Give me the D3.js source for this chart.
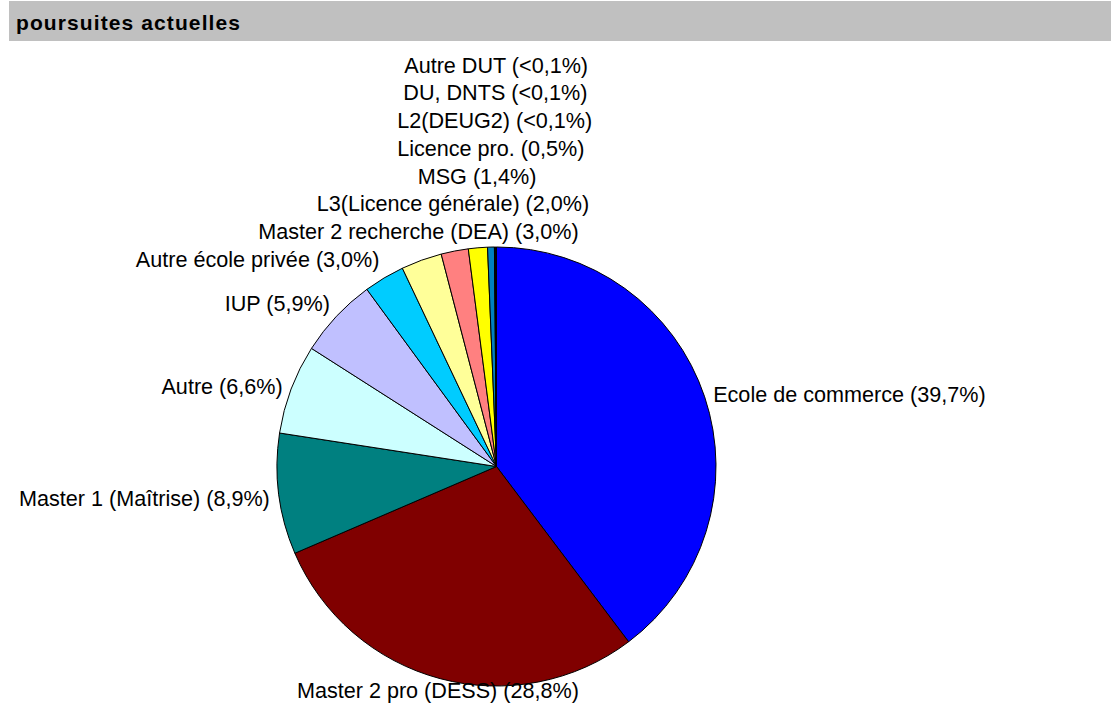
<!DOCTYPE html>
<html>
<head>
<meta charset="utf-8">
<script src="https://cdn.jsdelivr.net/npm/d3@7"></script>
<style>
  html, body { margin: 0; padding: 0; background: #ffffff; }
  svg { display: block; }
</style>
</head>
<body>
<svg id="chart" width="1111" height="713"></svg>
<script>
// ---- data ----
const chartTitle = "poursuites actuelles";
const categories = [
  "Ecole de commerce", "Master 2 pro (DESS)", "Master 1 (Maîtrise)", "Autre", "IUP",
  "Autre école privée", "Master 2 recherche (DEA)", "L3(Licence générale)", "MSG",
  "Licence pro.", "L2(DEUG2)", "DU, DNTS", "Autre DUT"
];
const shares = [39.7, 28.8, 8.9, 6.6, 5.9, 3.0, 3.0, 2.0, 1.4, 0.5, 0.05, 0.05, 0.05];
const sliceColors = [
  "#0000ff", "#800000", "#008080", "#ccffff", "#c0c0ff",
  "#00ccff", "#ffff99", "#ff8080", "#ffff00",
  "#0080c0", "#000080", "#333399", "#003366"
];

// ---- layout ----
const W = 1111, H = 713;
const cx = 496.5, cy = 466.5, radius = 219.5;
const fontFamily = "'Liberation Sans', Arial, Helvetica, sans-serif";
const fontSize = 21.6;
const capHalf = 0.716 * fontSize / 2;
const descent = 0.212 * fontSize;
const labelGap = 9, topGap = 3.5, lineStep = 27.7;

const svg = d3.select("#chart");

// title band
svg.append("rect")
  .attr("x", 9).attr("y", 1)
  .attr("width", W - 9).attr("height", 40)
  .attr("fill", "#c0c0c0");
svg.append("text")
  .attr("x", 16).attr("y", 30)
  .attr("font-family", fontFamily)
  .attr("font-size", 21)
  .attr("font-weight", "bold")
  .attr("letter-spacing", "1.1px")
  .attr("fill", "#000")
  .text(chartTitle);

// pie
const rows = categories.map((name, i) => ({ name, value: shares[i], color: sliceColors[i] }));
const pie = d3.pie().sort(null).value(d => d.value);
const arcs = pie(rows);
const arcGen = d3.arc().innerRadius(0).outerRadius(radius);

const g = svg.append("g").attr("transform", `translate(${cx},${cy})`);
g.selectAll("path.slice")
  .data(arcs)
  .join("path")
  .attr("class", "slice")
  .attr("d", arcGen)
  .attr("fill", d => d.data.color)
  .attr("stroke", "#000")
  .attr("stroke-width", 1)
  .attr("stroke-linejoin", "round");

// labels
const fmt = v => v < 0.1 ? "<0,1%" : d3.format(".1f")(v).replace(".", ",") + "%";

const labels = svg.append("g")
  .attr("font-family", fontFamily)
  .attr("font-size", fontSize)
  .attr("fill", "#000");

let prevTopBaseline = null;
arcs.forEach(d => {
  const a = (d.startAngle + d.endAngle) / 2;
  const s = Math.sin(a), c = Math.cos(a);
  const px = cx + (radius + labelGap) * s;
  const py = cy - (radius + labelGap) * c;
  const anchor = s > 0.4 ? "start" : s < -0.4 ? "end" : "middle";

  let mid = py;
  if (c > 0.4) mid -= 12 * Math.min(1, (c - 0.4) / 0.5);
  if (c < -0.4) mid += 3 * Math.min(1, (-c - 0.4) / 0.5);
  if (s < -0.4 && c < 0) mid += 3;
  let baseline = mid + capHalf;

  const t = labels.append("text")
    .attr("x", px)
    .attr("text-anchor", anchor)
    .text(`${d.data.name} (${fmt(d.data.value)})`);
  const w = t.node().getComputedTextLength();

  if (anchor === "middle" && c > 0) {
    // keep the label clear of the top of the pie
    const x0 = px - w / 2, x1 = px + w / 2;
    const dx = (cx >= x0 && cx <= x1) ? 0 : Math.min(Math.abs(cx - x0), Math.abs(cx - x1));
    const edgeY = dx < radius ? cy - Math.sqrt(radius * radius - dx * dx) : cy;
    baseline = Math.min(baseline, edgeY - topGap - descent);
    // stack the labels of the thin slices upward
    if (prevTopBaseline !== null) baseline = Math.min(baseline, prevTopBaseline - lineStep);
    prevTopBaseline = baseline;
  }
  t.attr("y", baseline);
});
</script>
</body>
</html>
